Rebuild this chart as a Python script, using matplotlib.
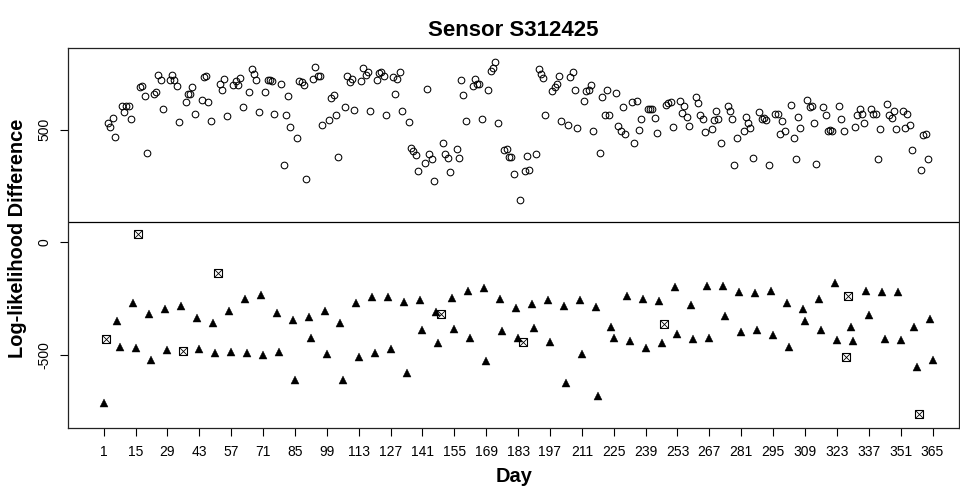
import matplotlib
matplotlib.use('Agg')
import matplotlib.pyplot as plt

# weekdays (open circles)
weekday_days = [
    3, 4, 5, 6,
    9, 10, 11, 12, 13,
    17, 18, 19, 20,
    23, 24, 25, 26, 27,
    30, 31, 32, 33, 34,
    37, 38, 39, 40, 41,
    44, 45, 46, 47, 48,
    52, 53, 54, 55,
    58, 59, 60, 61, 62,
    65, 66, 67, 68, 69,
    72, 73, 74, 75, 76,
    79, 80, 81, 82, 83,
    86, 87, 88, 89, 90,
    93, 94, 95, 96, 97,
    100, 101, 102, 103, 104,
    107, 108, 109, 110, 111,
    114, 115, 116, 117, 118,
    121, 122, 123, 124, 125,
    128, 129, 130, 131, 132,
    135, 136, 137, 138, 139,
    142, 143, 144, 145, 146,
    150, 151, 152, 153,
    156, 157, 158, 159, 160,
    163, 164, 165, 166, 167,
    170, 171, 172, 173, 174,
    177, 178, 179, 180, 181,
    184, 186, 187, 188,
    191, 192, 193, 194, 195,
    198, 199, 200, 201, 202,
    205, 206, 207, 208, 209,
    212, 213, 214, 215, 216,
    219, 220, 221, 222, 223,
    226, 227, 228, 229, 230,
    233, 234, 235, 236, 237,
    240, 241, 242, 243, 244,
    248, 249, 250, 251,
    254, 255, 256, 257, 258,
    261, 262, 263, 264, 265,
    268, 269, 270, 271, 272,
    275, 276, 277, 278, 279,
    282, 283, 284, 285, 286,
    289, 290, 291, 292, 293,
    296, 297, 298, 299, 300,
    303, 304, 305, 306, 307,
    310, 311, 312, 313, 314,
    317, 318, 319, 320, 321,
    324, 325, 326,
    331, 332, 333, 334, 335,
    338, 339, 340, 341, 342,
    345, 346, 347, 348, 349,
    352, 353, 354, 355, 356,
    360, 361, 362, 363,
]
weekday_vals = [
    529, 512, 552, 469,
    603, 580, 605, 605, 546,
    688, 693, 649, 398,
    658, 667, 742, 720, 591,
    722, 742, 719, 692, 532,
    621, 657, 658, 688, 568,
    633, 732, 738, 621, 538,
    704, 677, 726, 562,
    697, 717, 697, 728, 602,
    668, 770, 748, 720, 578,
    668, 722, 720, 716, 571,
    701, 343, 566, 650, 512,
    461, 717, 713, 698, 281,
    726, 779, 737, 739, 520,
    541, 642, 652, 563, 380,
    599, 737, 710, 723, 586,
    717, 773, 742, 757, 583,
    720, 753, 757, 738, 563,
    735, 658, 723, 756, 584,
    534, 418, 406, 387, 315,
    353, 680, 393, 370, 272,
    441, 390, 375, 312,
    414, 374, 719, 652, 537,
    695, 725, 702, 704, 547,
    676, 760, 772, 800, 531,
    410, 413, 378, 380, 302,
    189, 316, 381, 319,
    390, 770, 747, 729, 566,
    673, 688, 702, 739, 537,
    520, 735, 754, 676, 509,
    627, 673, 677, 698, 495,
    398, 643, 566, 676, 566,
    664, 516, 494, 602, 482,
    624, 441, 627, 500, 546,
    590, 590, 590, 553, 485,
    611, 617, 624, 512,
    628, 575, 606, 556, 516,
    645, 620, 566, 547, 491,
    501, 544, 583, 546, 442,
    605, 584, 548, 343, 464,
    494, 556, 531, 506, 374,
    577, 548, 553, 541, 344,
    571, 571, 479, 538, 495,
    608, 463, 371, 557, 506,
    630, 599, 605, 531, 349,
    602, 566, 494, 498, 494,
    606, 546, 495,
    513, 563, 593, 571, 531,
    593, 571, 571, 371, 504,
    612, 565, 550, 584, 504,
    583, 506, 569, 522, 411,
    319, 475, 481, 371,
]

# weekends (filled triangles)
weekend_days = [
    1, 7, 8, 14, 15, 21, 22, 28, 29, 35, 42, 43, 49, 50, 56, 57,
    63, 64, 70, 71, 77, 78, 84, 85, 91, 92, 98, 99, 105, 106,
    112, 113, 119, 120, 126, 127, 133, 134, 140, 141, 147, 148,
    154, 155, 161, 162, 168, 169, 175, 176, 182, 183, 189, 190,
    196, 197, 203, 204, 210, 211, 217, 218, 224, 225, 231, 232,
    238, 239, 245, 246, 252, 253, 259, 260, 266, 267, 273, 274,
    280, 281, 287, 288, 294, 295, 301, 302, 308, 309, 315, 316,
    322, 323, 329, 330, 336, 337, 343, 344, 350, 351, 357, 358,
    364, 365,
]
weekend_vals = [
    -712, -349, -463, -269, -470, -318, -522, -297, -478, -281, -334, -475,
    -359, -493, -305, -485,
    -250, -493, -234, -502, -312, -485, -343, -609, -333, -426, -305, -496,
    -357, -609,
    -267, -507, -243, -493, -244, -475, -265, -580, -255, -388, -309, -447,
    -247, -385, -216, -426, -204, -527, -253, -392, -292, -425, -274, -382,
    -255, -442, -284, -626, -255, -497, -286, -682, -376, -423, -237, -439,
    -252, -468, -259, -448, -197, -405, -280, -428, -195, -425, -194, -328,
    -221, -399, -226, -390, -217, -411, -268, -466, -296, -348, -253, -388,
    -181, -434, -376, -437, -215, -321, -219, -429, -219, -434, -374, -553,
    -339, -522,
]

# holidays (boxed x)
holiday_days = [2, 16, 36, 51, 149, 185, 247, 327, 328, 359]
holiday_vals = [-428, 38, -484, -135, -320, -444, -361, -510, -238, -762]

threshold = 90
xticks = list(range(1, 366, 14))
yticks = [-500, 0, 500]

plt.rcParams['font.family'] = ['Liberation Sans', 'DejaVu Sans']


def plot_sensor():
    fig = plt.figure(figsize=(9.6, 4.92), dpi=100)
    ax = fig.add_axes([0.0711, 0.1295, 0.9278, 0.772])

    ax.plot(weekday_days, weekday_vals, 'o', mfc='none', mec='k',
            ms=4.8, mew=0.75)
    ax.plot(weekend_days, weekend_vals, '^', color='k', ms=5.8, mew=0.3)
    ax.plot(holiday_days, holiday_vals, 's', mfc='none', mec='k',
            ms=6.0, mew=0.8)
    ax.plot(holiday_days, holiday_vals, 'x', color='k', ms=6.0, mew=0.6)
    ax.axhline(threshold, color='k', lw=0.9)

    ax.set_xlim(-14.55, 376.6)
    ax.set_ylim(-825, 860)
    ax.set_xticks(xticks)
    ax.set_xticklabels([str(t) for t in xticks])
    ax.set_yticks(yticks)
    ax.set_yticklabels([str(t) for t in yticks], rotation=90, va='center')
    ax.tick_params(direction='out', length=5.8, width=0.8, labelsize=10,
                   pad=6)
    for s in ax.spines.values():
        s.set_linewidth(0.9)
        s.set_color('#222222')

    ax.set_title('Sensor S312425', fontsize=16, fontweight='bold', pad=9)
    ax.set_xlabel('Day', fontsize=14.4, fontweight='bold', labelpad=6)
    ax.set_ylabel('Log-likelihood Difference', fontsize=14.4,
                  fontweight='bold', labelpad=8)

    fig.savefig('out.png', dpi=100)


if __name__ == '__main__':
    plot_sensor()
